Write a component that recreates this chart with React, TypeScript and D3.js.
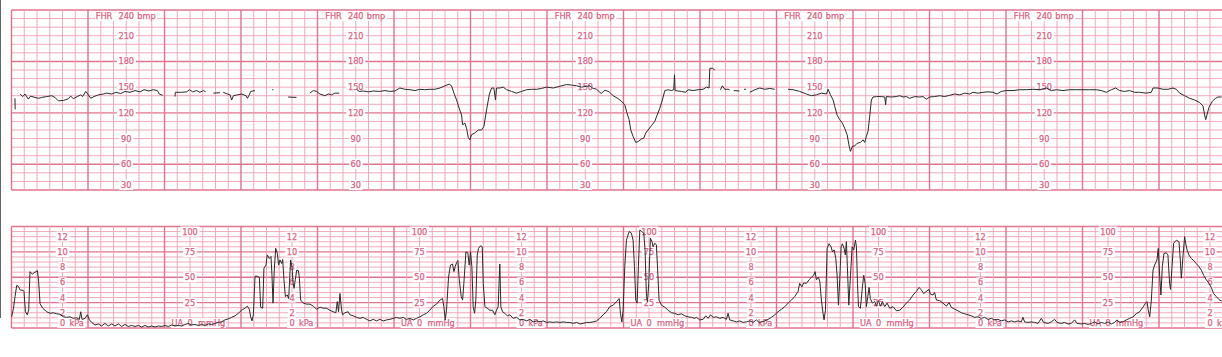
import React from 'react';
import * as d3 from 'd3';

type P = [number, number];

// time in seconds from the left edge of the paper, FHR in bpm
const fhrTick: P[] = [[2.7, 137], [2.9, 124]];
const fhrA: P[] = [[6.7,142],[8.8,139],[10.6,142],[13.2,136],[15.0,139.5],[18.4,138],[21.1,137],[23.7,138],[27.6,139],[31.5,140],[34.1,138],[36.7,134],[40.7,134.5],[44.6,136.5],[46.4,139.5],[48.5,136.5],[51.6,139],[54.3,141],[55.8,139],[58.2,145],[60.3,141],[62.1,137],[64.7,139],[68.1,141],[72.0,142],[74.6,143],[78.6,142],[82.0,144],[85.6,142.5],[89.0,145],[93.0,144],[96.9,146],[100.8,144.5],[103.9,147],[107.8,145.5],[111.2,147],[114.4,146],[115.9,142],[118.6,140.5]];
const fhrB: P[] = [[128.2,139],[128.5,144],[133.5,144],[137.4,144.5],[139.5,147],[142.1,144.5],[145.2,146],[147.8,144],[150.5,146],[152.3,144.5]];
const fhrC: P[] = [[158.3,143],[163.5,143.5]];
const fhrD: P[] = [[166.1,144],[169.3,142],[171.4,141],[172.7,135],[174.0,140],[177.1,141],[180.5,142],[183.9,140],[185.0,137],[186.5,141],[187.6,145],[191.0,146]];
const fhrE: P[] = [[204.4,147],[205.4,147]];
const fhrF: P[] = [[217,138.5],[223.5,138]];
const fhrG: P[] = [[234.0,143],[236.7,146],[239.3,145],[241.9,142],[245.8,140],[248.4,142],[251.0,141],[253.6,143],[257.0,143]];
const fhrH: P[] = [[270.6,147.5],[272.7,145],[275.9,145.5],[279.8,144.5],[283.7,145.5],[288.9,145],[292.9,146],[296.8,145],[300.7,145.5],[304.6,149],[308.5,147.5],[312.5,147],[316.4,146],[320.3,147.5],[324.2,147],[328.1,147.5],[332.1,147.5],[336.0,149],[339.9,151.5],[343.3,153.5],[345.1,151.5],[347.0,143],[349.1,135],[351.1,125.5],[353.0,117.5],[353.8,106],[355.6,108],[356.9,102],[358.2,91.5],[359.5,88.5],[360.8,94.5],[363.4,96.5],[366.1,100],[368.7,100],[370.5,104],[372.6,123.5],[374.7,141],[376.5,149],[378.3,149],[379.6,135],[380.4,149],[383.0,149],[385.7,150],[388.3,147],[392.2,145],[396.1,143],[400.0,145],[404.0,147],[407.9,147.5],[411.8,147.5],[415.7,148.5],[419.6,150],[424.9,149],[430.1,151],[435.3,153],[439.2,152.5],[443.2,151.5],[447.1,150],[451.0,151],[453.6,151.5],[455.7,149],[458.9,147.5],[462.5,142.5],[465.5,146.5],[468.7,144.5],[471.9,140],[475.8,136.5],[478.4,133.5],[481.0,129.5],[482.8,119.5],[484.4,112],[485.7,100],[487.5,92.5],[489.6,85.5],[491.5,86.5],[494.1,89.5],[495.9,90.5],[497.5,96.5],[499.3,100],[501.9,105],[504.5,110],[506.4,117.5],[508.5,125.5],[510.5,135],[512.4,146],[515.0,147],[517.6,146],[519.4,147],[520.0,164.5],[520.5,146],[522.8,145.5],[525.4,145],[528.8,144],[530.7,147],[534.6,146],[538.5,147],[542.4,147.5],[545.0,150],[547.1,149],[547.7,172],[549.8,172],[551.6,170]];
const fhrI: P[] = [[556.0,147],[557.6,151.5],[559.4,147.5],[562.0,147.5],[563.2,147]];
const fhrJ: P[] = [[566.5,146],[571,145.5]];
const fhrK: P[] = [[574.5,147.5],[576,147.5]];
const fhrL: P[] = [[579,144],[583,147],[586.9,149],[590.8,147.5],[594.7,148.5],[598.6,147.5]];
const fhrM: P[] = [[609.1,147.5],[613.0,147],[618.2,145],[623.5,142],[627.4,140],[631.3,141],[635.2,143],[639.2,142],[640.5,147.5],[642.3,141],[644.4,135],[645.7,127.5],[647.5,117.5],[649.6,112],[651.7,108],[653.5,102],[655.4,94.5],[657.0,81],[658.0,75],[659.5,81],[661.4,81.5],[663.2,84.5],[665.8,85.5],[667.9,88.5],[669.2,85.5],[670.5,92.5],[671.8,98.5],[673.1,116],[674.4,135],[675.7,138.5],[678.4,139],[682.3,139],[684.9,138.5],[685.6,129.5],[686.2,139],[690.1,138.5],[694.0,139],[696.6,140],[699.2,138.5],[701.8,139],[704.4,137],[708.4,139],[712.3,138.5],[714.9,139],[717.5,136],[720.1,138.5],[724.0,139],[728.0,140],[731.9,139],[735.8,140.5],[739.7,142],[743.7,141],[747.6,143],[751.5,142],[754.1,144],[758.0,143],[762.0,144],[765.9,144.5],[769.8,144],[772.9,142],[776.3,145],[780.2,146],[785.5,146],[790.7,147],[795.9,147],[801.2,147.5],[806.4,147],[811.6,149],[815.5,146],[819.5,147],[824.7,146],[829.9,147],[835.1,147],[840.4,147],[845.6,147],[850.8,147],[854.7,146],[858.7,144],[862.6,147],[866.0,149],[869.1,146],[873.0,145],[876.9,146],[880.9,144],[884.8,144],[890.0,143],[894.0,144],[895.3,149],[899.2,149],[903.1,147.5],[907.0,147.5],[911.0,149],[913.6,147.5],[916.2,143],[920.1,140],[924.0,137],[928.0,135],[931.9,132],[934.5,128],[935.8,117.5],[936.6,112],[937.6,117.5],[939.2,126.5],[941.8,133.5],[944.4,137],[946.2,138.5],[949.1,138.5]];
const fhrSegments: P[][] = [fhrTick, fhrA, fhrB, fhrC, fhrD, fhrE, fhrF, fhrG, fhrH, fhrI, fhrJ, fhrK, fhrL, fhrM];

// uterine activity, mmHg
const uaTrace: P[] = [[0.1,11],[1.5,19],[2.8,31],[4.1,42],[5.4,41],[6.7,37.5],[9.3,37],[9.8,36],[10.9,16],[12.4,13],[13.5,18],[14.5,55.5],[16.4,53],[17.7,54.5],[19.2,55.5],[20.3,56.5],[21.3,45.5],[22.4,24],[24.5,19.5],[27.6,16],[30.2,14.5],[32.8,15],[35.4,14],[38.0,13.5],[40.7,11],[43.3,10.5],[45.9,11],[48.5,9.5],[51.1,10],[53.2,8.5],[54.3,16],[55.3,8.5],[57.7,9.5],[59.5,13],[61.1,8],[62.9,5.5],[65.5,3],[68.1,4],[70.7,2],[73.3,4.5],[75.9,2],[78.6,4],[81.2,2],[83.8,4],[86.4,1.5],[89.0,3.5],[91.6,1.5],[94.3,2.5],[96.9,1.5],[99.5,2.5],[102.1,1],[104.7,2.5],[107.3,1],[109.9,2],[112.5,1],[115.2,2],[117.8,1.5],[120.4,2.5],[123.0,1.5],[125.6,3],[128.2,2],[130.8,2.5],[133.5,2],[136.1,3.5],[138.7,4.5],[141.3,3],[143.9,3.5],[146.5,2.5],[149.1,3.5],[151.8,2.5],[154.4,4],[157.0,3.5],[159.6,4.5],[162.2,5.5],[164.8,6],[167.4,8],[170.1,9],[172.7,10.5],[175.3,12],[177.9,14.5],[180.5,17.5],[183.1,19.5],[185.0,21.5],[186.5,18.5],[187.6,11],[188.6,7],[189.7,13],[191.0,51],[192.8,51],[194.4,50],[195.4,20.5],[197.0,19.5],[198.0,59],[199.6,62],[200.6,72],[202.2,68.5],[203.5,70.5],[204.3,52],[205.1,24.5],[206.1,57],[207.2,78.5],[208.5,73.5],[209.5,62],[210.6,67],[211.9,63.5],[212.7,67.5],[213.7,47.5],[214.8,31],[216.3,32.5],[217.4,29],[218.9,67],[220.0,60.5],[220.8,44],[221.6,39],[222.6,47.5],[223.7,57],[225.0,56.5],[225.7,50.5],[226.8,27.5],[228.9,24.5],[231.5,23.5],[234.1,23.5],[236.7,21.5],[239.3,18.5],[242.0,20.5],[244.5,19.5],[247.1,19.5],[249.7,17.5],[252.3,16],[254.4,15],[255.5,26],[256.5,16],[257.6,34],[258.9,17.5],[259.7,13],[261.5,15],[264.1,16],[265.4,13],[268.0,12],[270.6,10.5],[273.3,9.5],[275.9,10.5],[278.5,8.5],[281.1,7],[283.7,8.5],[286.3,7],[288.9,8.5],[291.6,7],[294.2,8],[296.8,8.5],[299.4,9.5],[302.0,10.5],[304.6,9.5],[307.2,10.5],[309.8,8.5],[312.5,9.5],[315.1,8],[317.7,9.5],[320.3,11],[322.9,13],[325.5,14.5],[328.1,17.5],[330.8,21.5],[333.4,23.5],[336.0,27.5],[338.1,29],[339.1,21],[340.2,8],[341.2,17.5],[342.8,50.5],[344.3,62],[345.9,63],[347.0,55.5],[348.0,60.5],[349.1,64.5],[350.1,66.5],[351.1,49],[352.7,31],[353.8,27.5],[354.8,44],[356.4,75],[357.9,74],[359.0,62],[360.0,75],[361.1,60.5],[362.1,21],[363.2,14.5],[364.2,27.5],[365.3,72],[366.3,78.5],[367.9,81],[369.2,80],[370.0,44],[371.3,21],[373.1,19.5],[375.2,17.5],[377.3,17.5],[379.1,13],[380.4,17.5],[381.7,21],[383.0,63],[383.8,21],[385.1,16],[386.9,14.5],[388.8,12],[390.9,13],[393.5,9.5],[396.1,10.5],[398.7,8],[401.3,8.5],[404.0,7],[406.6,8.5],[409.2,6],[411.8,7],[414.4,6],[417.0,7],[419.6,5.5],[422.3,6],[424.9,5.5],[427.5,6],[430.1,5.5],[432.7,6],[435.3,5.5],[437.9,5.5],[440.5,4.5],[443.2,5.5],[445.8,4],[448.4,4.5],[451.0,5.5],[453.6,5.5],[456.2,6],[458.9,7],[461.4,9.5],[464.0,13],[466.6,16],[469.2,21],[471.9,22.5],[474.5,26],[476.6,29],[477.6,14.5],[478.7,6],[479.7,17.5],[481.0,60.5],[482.3,86.5],[484.4,95],[486.2,93.5],[487.5,86.5],[488.6,60.5],[489.6,27.5],[490.7,24.5],[491.7,60.5],[492.8,96.5],[494.3,95],[495.9,93.5],[496.9,77],[498.0,31],[498.8,26],[499.8,44],[501.1,88.5],[502.4,85],[503.2,80],[504.5,83.5],[505.8,82],[506.9,54],[507.9,27.5],[509.8,22.5],[512.4,20.5],[515.0,17.5],[517.6,15],[520.2,14.5],[522.8,13],[525.4,14],[528.1,12],[530.7,11],[533.3,10.5],[535.9,9.5],[537.2,10.5],[539.8,8],[542.4,8.5],[544.5,12],[546.4,9.5],[548.2,13],[550.3,10.5],[552.9,11],[555.5,9.5],[558.1,10.5],[560.7,8.5],[562.0,14.5],[563.3,8],[566.0,7],[568.6,6],[571.2,7],[573.8,5.5],[576.4,6],[579.0,7],[581.6,5.5],[584.3,8],[586.3,5.5],[588.2,6],[590.8,7],[593.4,8.5],[596.0,10.5],[598.6,13],[601.2,16],[603.9,18.5],[606.5,21],[609.1,24.5],[611.7,27.5],[614.3,31],[616.9,36],[618.2,44],[619.8,40.5],[621.4,44.5],[623.5,44],[625.6,47.5],[627.4,50],[629.2,52],[630.3,55.5],[631.3,47.5],[632.9,50],[634.0,45.5],[635.2,27.5],[636.5,14.5],[637.3,8],[638.4,17.5],[639.7,78.5],[641.2,83],[642.8,80],[643.9,75],[645.2,77],[646.5,68.5],[647.5,52],[648.6,22.5],[649.6,47.5],[650.7,80],[651.7,83],[653.0,78.5],[654.0,72],[654.8,85],[655.6,60.5],[656.7,22.5],[658.0,50.5],[659.3,80],[660.6,77],[661.9,86.5],[662.7,80],[663.5,44],[664.3,21],[665.8,19.5],[667.4,40.5],[668.4,52],[669.5,44],[670.5,21],[671.6,31],[672.6,40],[673.6,29],[675.2,24.5],[677.1,26],[678.4,21.5],[679.9,27],[681.5,21.5],[683.1,26],[684.9,21],[686.7,24.5],[688.8,19.5],[691.4,21],[694.0,17],[696.6,17.5],[699.2,20.5],[701.8,24.5],[704.4,27.5],[707.1,32.5],[709.7,36],[711.8,40],[713.6,37.5],[715.4,34],[717.5,36],[719.6,38],[720.6,33.5],[722.7,32.5],[724.0,35],[725.4,27.5],[728.0,27],[730.6,24.5],[733.2,21.5],[735.3,25],[737.1,20.5],[739.7,18.5],[742.3,17],[745.0,15],[747.6,14],[750.2,13],[752.8,12],[755.4,10.5],[758.0,11],[760.6,9.5],[763.3,10.5],[765.9,8.5],[768.5,9.5],[771.1,8],[773.7,8.5],[776.3,7],[778.9,8],[781.6,6],[784.2,7],[786.8,6],[789.4,7],[792.0,6],[793.3,10.5],[794.6,6],[797.2,5.5],[799.9,6],[802.5,5.5],[805.1,4.5],[807.7,9.5],[809.5,5.5],[813.0,4.5],[815.5,6],[818.1,8.5],[820.0,5.5],[823.4,4.5],[826.0,5.5],[828.6,4],[831.2,4.5],[833.8,8],[835.7,4.5],[839.1,4],[841.7,4.5],[844.3,3.5],[847.0,4.5],[849.5,6],[852.1,4],[854.7,5.5],[857.4,4.5],[860.0,6],[862.6,4],[865.2,5.5],[867.0,8],[869.1,5.5],[871.7,6],[874.4,8],[877.0,9.5],[879.6,11],[882.2,14],[884.8,16],[887.4,20.5],[889.5,24.5],[890.6,26],[891.6,17.5],[892.7,11],[894.0,27.5],[895.3,57],[896.6,62],[898.4,67],[899.4,78.5],[900.5,52],[901.5,32.5],[902.6,60.5],[903.9,73.5],[905.7,74],[907.0,72],[908.3,44],[909.1,38],[910.2,60.5],[911.5,83.5],[913.6,86.5],[915.7,85],[916.7,67],[917.5,49],[918.8,70.5],[920.1,90],[920.9,83.5],[922.0,77],[923.5,72],[925.3,68.5],[927.2,66.5],[929.2,63.5],[931.3,60.5],[933.2,57],[935.0,52],[937.1,47.5],[939.2,44],[941.0,40],[942.8,34],[944.9,31],[947.0,28],[949.1,26.5]];

// scale labels
const fhrLabels = [210, 180, 150, 120, 90, 60];
const kpaLabels = [12, 10, 8, 6, 4, 2];
const mmhgLabels = [75, 50, 25];
const fhrLabelTimes = [90, 270, 450, 630, 810];
const kpaLabelTimes = [40, 220, 400, 580, 760, 940];
const mmhgLabelTimes = [140, 320, 500, 680, 860];

const MINOR = '#eea0b2';
const MAJOR = '#e0738d';
const TXT = '#df5f83';
const FONT = 'DejaVu Sans, Verdana, sans-serif';
const FS = 8.2;

export default function App() {
  const W = 1222, H = 357;
  const x = d3.scaleLinear().domain([0, 950]).range([11.5, 11.5 + 950 * 1.275]);
  const yF = d3.scaleLinear().domain([30, 240]).range([190, 10]);
  const yU = d3.scaleLinear().domain([0, 100]).range([328, 226.5]);
  const lineF = d3.line<P>().x(d => x(d[0])).y(d => yF(d[1]));
  const lineU = d3.line<P>().x(d => x(d[0])).y(d => yU(d[1]));
  const vT = d3.range(0, 951, 10);
  const fT = d3.range(30, 241, 10);
  const uT = d3.range(0, 101, 5);
  const xL = x(0), xR = W;

  const txt = (tx: number, ty: number, t: string, anchor: string) => (
    <text x={tx} y={ty} textAnchor={anchor} dominantBaseline="central" fill={TXT}
      stroke={TXT} strokeWidth={0.25} fontSize={FS} fontFamily={FONT}>{t}</text>
  );
  const label = (cx: number, cy: number, t: string, key: string) => {
    const w = t.length * 5.3 + 3;
    return (
      <g key={key}>
        <rect x={cx - w / 2} y={cy - 5} width={w} height={10} fill="#fff" />
        {txt(cx, cy, t, 'middle')}
      </g>
    );
  };

  return (
    <svg width={W} height={H} style={{ position: 'absolute', left: 0, top: 0, background: '#fff' }}>
      <rect x={0} y={0} width={W} height={H} fill="#fff" />
      {/* top panel grid */}
      <g>
        {fT.map(v => (
          <line key={'fh' + v} x1={xL} x2={xR} y1={yF(v)} y2={yF(v)}
            stroke={v % 60 === 0 || v === 30 ? MAJOR : MINOR} strokeWidth={v % 60 === 0 || v === 30 ? 1.4 : 0.9} />
        ))}
        {vT.map(t => (
          <line key={'fv' + t} x1={x(t)} x2={x(t)} y1={yF(240)} y2={yF(30)}
            stroke={t % 60 === 0 ? MAJOR : MINOR} strokeWidth={t % 60 === 0 ? 1.4 : 0.9} />
        ))}
      </g>
      {/* bottom panel grid */}
      <g>
        {uT.map(v => (
          <line key={'uh' + v} x1={xL} x2={xR} y1={yU(v)} y2={yU(v)}
            stroke={v % 25 === 0 ? MAJOR : MINOR} strokeWidth={v % 25 === 0 ? 1.4 : 0.9} />
        ))}
        {vT.map(t => (
          <line key={'uv' + t} x1={x(t)} x2={x(t)} y1={yU(100)} y2={yU(0)}
            stroke={t % 60 === 0 ? MAJOR : MINOR} strokeWidth={t % 60 === 0 ? 1.4 : 0.9} />
        ))}
      </g>
      {/* FHR labels */}
      {fhrLabelTimes.map(t => {
        const cx = x(t);
        return (
          <g key={'fl' + t}>
            <rect x={cx - 31} y={yF(240) + 1} width={62} height={10} fill="#fff" />
            {txt(cx - 14, yF(240) + 6, 'FHR', 'end')}
            {txt(cx, yF(240) + 6, '240', 'middle')}
            {txt(cx + 11, yF(240) + 6, 'bmp', 'start')}
            {fhrLabels.map(v => label(cx, yF(v), String(v), 'f' + t + v))}
            {label(cx, yF(30) - 5, '30', 'f30' + t)}
          </g>
        );
      })}
      {/* kPa labels */}
      {kpaLabelTimes.map(t => {
        const cx = x(t);
        return (
          <g key={'kl' + t}>
            {kpaLabels.map(k => label(cx, yU(k * 7.5), String(k), 'k' + t + k))}
            <rect x={cx - 5} y={yU(0) - 10} width={28} height={10} fill="#fff" />
            {txt(cx, yU(0) - 5, '0', 'middle')}
            {txt(cx + 7, yU(0) - 5, 'kPa', 'start')}
          </g>
        );
      })}
      {/* mmHg labels */}
      {mmhgLabelTimes.map(t => {
        const cx = x(t);
        return (
          <g key={'ml' + t}>
            {label(cx, yU(100) + 5, '100', 'm100' + t)}
            {mmhgLabels.map(v => label(cx, yU(v), String(v), 'm' + t + v))}
            <rect x={cx - 19} y={yU(0) - 10} width={55} height={10} fill="#fff" />
            {txt(cx - 7, yU(0) - 5, 'UA', 'end')}
            {txt(cx, yU(0) - 5, '0', 'middle')}
            {txt(cx + 8, yU(0) - 5, 'mmHg', 'start')}
          </g>
        );
      })}
      {/* traces */}
      {fhrSegments.map((s, i) => (
        <path key={'seg' + i} d={lineF(s) ?? ''} fill="none" stroke="#2a2a2a" strokeWidth={1} strokeLinejoin="round" />
      ))}
      <path d={lineU(uaTrace) ?? ''} fill="none" stroke="#2a2a2a" strokeWidth={1} strokeLinejoin="round" />
      <line x1={0.5} x2={0.5} y1={0} y2={318} stroke="#666" strokeWidth={1} />
    </svg>
  );
}
